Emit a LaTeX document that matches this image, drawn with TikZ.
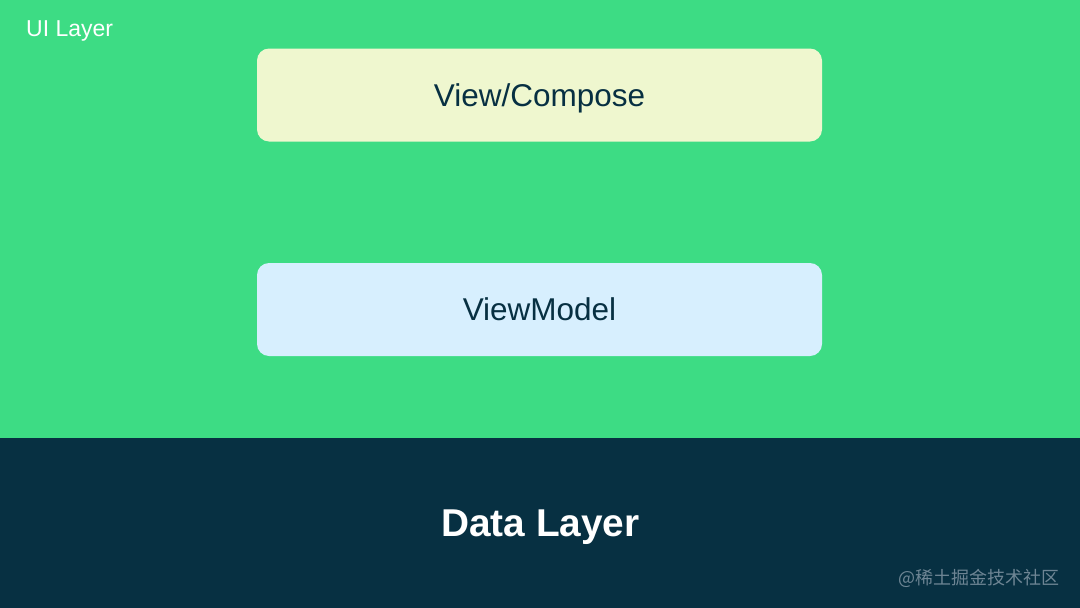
\documentclass[tikz,border=0pt]{standalone}
\usepackage{fontspec}
\setmainfont{Liberation Sans}
\newfontfamily\cjkfont{Noto Sans CJK SC}
\definecolor{uigreen}{HTML}{3DDC84}
\definecolor{datanavy}{HTML}{073042}
\definecolor{viewfill}{HTML}{EFF7CF}
\definecolor{vmfill}{HTML}{D7EFFE}
\definecolor{markgray}{HTML}{6E8594}
\tikzset{
  layerbox/.style={rounded corners=12pt, inner sep=0pt, minimum width=565pt,
    minimum height=93pt, text depth=0pt, text=datanavy,
    font=\fontsize{31.5}{36}\selectfont}
}

\begin{document}
\begin{tikzpicture}[x=1pt, y=-1pt]

\fill[uigreen] (0,0) rectangle (1080,438);
\fill[datanavy] (0,438) rectangle (1080,608);
\useasboundingbox (0,0) rectangle (1080,608);

\node[anchor=base west, inner sep=0pt, text=white, font=\fontsize{23}{27}\selectfont] (ui) at (26,36.5) {UI Layer};

\node[layerbox, fill=viewfill] (view) at (539.5,95) {View/Compose};

\node[layerbox, fill=vmfill] (vm) at (539.5,309.5) {ViewModel};

\node[anchor=base, inner sep=0pt, text=white, font=\bfseries\fontsize{38.8}{44}\selectfont] (data) at (540.5,536) {Data Layer};

\node[anchor=east, text=markgray, font=\cjkfont\fontsize{18}{20}\selectfont] (mark) at (1063,578) {@稀土掘金技术社区};

\end{tikzpicture}
\end{document}
